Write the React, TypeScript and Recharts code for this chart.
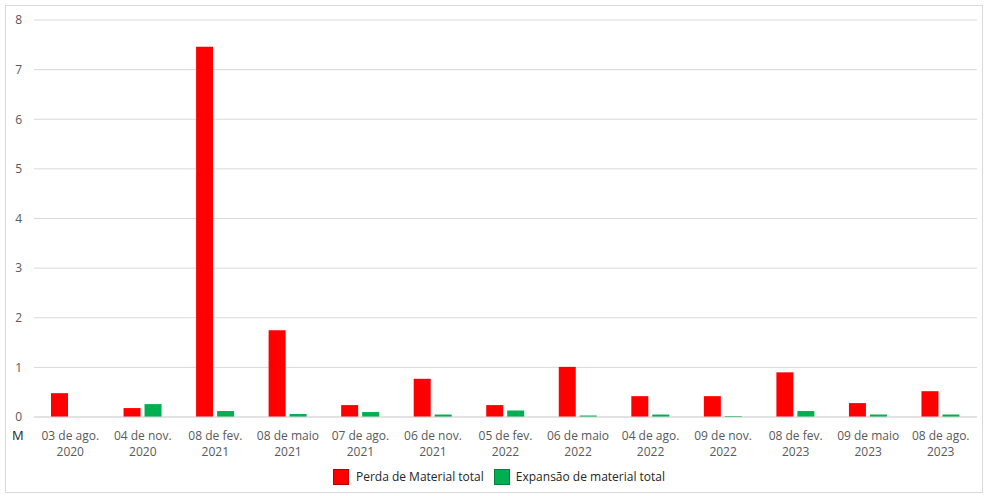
import { BarChart, Bar, XAxis, YAxis, CartesianGrid } from "recharts";

const dateLabels = [
  "03 de ago.|2020", "04 de nov.|2020", "08 de fev.|2021", "08 de maio|2021",
  "07 de ago.|2021", "06 de nov.|2021", "05 de fev.|2022", "06 de maio|2022",
  "04 de ago.|2022", "09 de nov.|2022", "08 de fev.|2023", "09 de maio|2023",
  "08 de ago.|2023",
];
const perdaValues = [0.48, 0.18, 7.46, 1.75, 0.24, 0.77, 0.24, 1.01, 0.42, 0.42, 0.9, 0.28, 0.52];
const expansaoValues = [0, 0.26, 0.12, 0.06, 0.1, 0.05, 0.13, 0.03, 0.05, 0.02, 0.12, 0.05, 0.05];
const yTicks = [0, 1, 2, 3, 4, 5, 6, 7, 8];

const data = dateLabels.map((d, i) => ({
  date: d,
  perda: perdaValues[i],
  expansao: expansaoValues[i],
}));

const font = "'Open Sans', 'Liberation Sans', sans-serif";

// two-line date tick
const DateTick = ({ x, y, payload }: any) => {
  const [line1, line2] = String(payload.value).split("|");
  return (
    <text x={x} y={y} textAnchor="middle" fill="#595959" fontSize={12} fontFamily={font}>
      <tspan x={x} dy={15}>{line1}</tspan>
      <tspan x={x} dy={16}>{line2}</tspan>
    </text>
  );
};

export default function App() {
  return (
    <div style={{ position: "absolute", left: 0, top: 0, width: 984, height: 496, background: "#fff", fontFamily: font }}>
      <div style={{ position: "absolute", left: 5, top: 5, width: 976, height: 486, border: "1px solid #d9d9d9" }} />
      <BarChart
        width={984}
        height={496}
        data={data}
        margin={{ top: 20, right: 7, left: 0, bottom: 34 }}
        barSize={17}
        barGap={4}
      >
        <CartesianGrid vertical={false} stroke="#d9d9d9" />
        <XAxis
          dataKey="date"
          interval={0}
          height={45}
          tickLine={false}
          axisLine={{ stroke: "#d9d9d9" }}
          tick={<DateTick />}
        />
        <YAxis
          width={34}
          domain={[0, 8]}
          ticks={yTicks}
          tickLine={false}
          axisLine={false}
          tickMargin={6}
          tick={{ fill: "#595959", fontSize: 12, fontFamily: font }}
        />
        <Bar dataKey="perda" name="Perda de Material total" fill="#ff0000" isAnimationActive={false} />
        <Bar dataKey="expansao" name="Expansão de material total" fill="#00b050" isAnimationActive={false} />
      </BarChart>
      <div style={{ position: "absolute", left: 12, top: 426, fontSize: 13, color: "#262626" }}>M</div>
      <div style={{ position: "absolute", left: 0, top: 468, width: 984, display: "flex", justifyContent: "center", fontSize: 12, color: "#262626" }}>
        <div style={{ display: "flex", alignItems: "center", marginLeft: 14 }}>
          <span style={{ display: "inline-block", width: 14, height: 14, background: "#ff0000", border: "1px solid #c00000", marginRight: 7 }} />
          <span style={{ marginRight: 10 }}>Perda de Material total</span>
          <span style={{ display: "inline-block", width: 14, height: 14, background: "#00b050", border: "1px solid #00803a", marginRight: 6 }} />
          <span>Expansão de material total</span>
        </div>
      </div>
    </div>
  );
}
